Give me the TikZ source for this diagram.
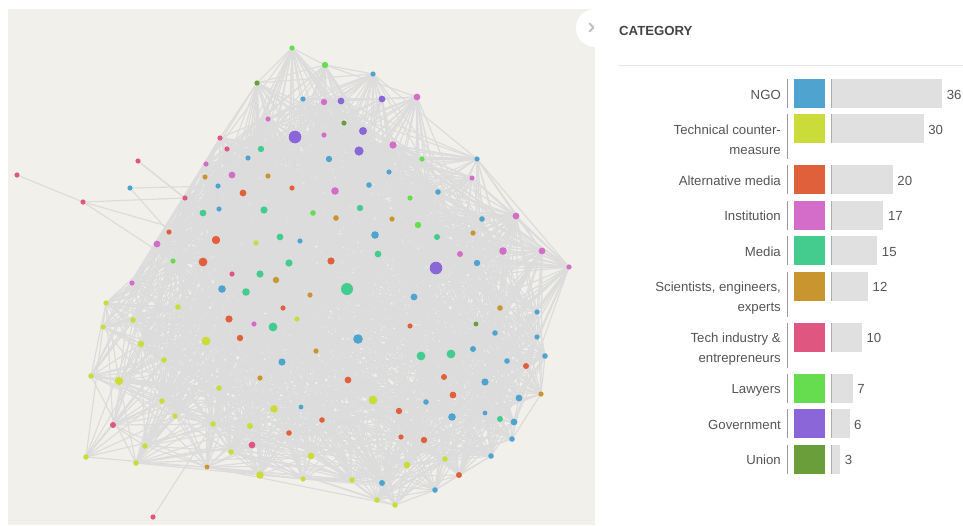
\documentclass[tikz,border=0pt]{standalone}
\usepackage{fontspec}
\setmainfont{Liberation Sans}
\definecolor{beige}{HTML}{F2F0EA}
\definecolor{edgec}{HTML}{DCDCDC}
\definecolor{cngo}{HTML}{4EA4CE}
\definecolor{ctec}{HTML}{CBDB3A}
\definecolor{calt}{HTML}{E0603C}
\definecolor{cins}{HTML}{D36DC9}
\definecolor{cmed}{HTML}{44CB8E}
\definecolor{csci}{HTML}{C9952E}
\definecolor{ctin}{HTML}{DF5780}
\definecolor{claw}{HTML}{66DD4E}
\definecolor{cgov}{HTML}{8A66D8}
\definecolor{cuni}{HTML}{6A9E3B}
\definecolor{bargray}{HTML}{E0E0E0}
\definecolor{txtc}{HTML}{555555}
\definecolor{titlec}{HTML}{444444}
\definecolor{rulec}{HTML}{E6E6E6}
\definecolor{sepc}{HTML}{999999}
\pgfdeclarelayer{bg}\pgfdeclarelayer{edges}\pgfsetlayers{bg,edges,main}
\def\NodeList{%
292/48/law/2.6/1, 257/83/uni/2.6/1, 303/99/ngo/2.6/1, 268/119/ins/2.6/1, 295/137/gov/6.3/1,
220/138/tin/2.6/1, 227/149/tin/2.6/1, 261/149/med/3.2/1, 248/158/ngo/2.6/1, 138/161/tin/2.6/0,
206/164/ins/2.6/1, 17/175/tin/2.6/0, 205/177/sci/2.6/1, 232/175/ins/3.4/1, 268/176/sci/2.6/1,
218/186/ngo/2.6/1, 130/188/ngo/2.6/0, 243/193/alt/3.4/1, 292/188/alt/2.6/1, 185/198/tin/2.6/1,
83/202/tin/2.6/0, 203/213/med/3.4/1, 219/209/ngo/2.6/1, 264/210/med/3.6/1, 169/232/alt/2.6/1,
157/244/ins/3.4/1, 216/240/alt/4.2/1, 256/243/tec/2.6/1, 280/237/med/3.4/1, 300/241/ngo/2.6/1,
173/261/law/2.6/1, 203/262/alt/4.4/1, 289/263/med/3.6/1, 232/274/tin/2.6/1, 260/274/med/3.6/1,
325/65/law/3.2/1, 373/74/ngo/2.6/1, 324/102/ins/3.2/1, 341/101/gov/3.4/1, 382/99/gov/3.4/1,
417/97/ins/3.4/1, 344/123/uni/2.6/1, 363/131/gov/4.0/1, 324/135/ins/2.6/1, 359/151/gov/4.6/1,
393/145/ins/3.6/1, 329/159/ngo/3.2/1, 422/159/law/2.6/1, 477/159/ngo/2.6/1, 389/172/ngo/2.6/1,
472/178/ins/2.6/1, 369/185/ngo/2.8/1, 335/191/ins/3.8/1, 410/198/law/2.6/1, 438/192/ngo/2.8/1,
313/213/law/2.8/1, 360/208/med/3.2/1, 336/218/sci/2.8/1, 392/219/sci/2.6/1, 418/225/law/3.2/1,
516/216/ins/3.4/1, 482/219/ngo/2.8/1, 473/233/sci/2.6/1, 375/235/ngo/3.8/1, 437/237/med/3.0/1,
503/251/ins/3.8/1, 542/251/ins/3.4/1, 378/254/med/3.4/1, 331/261/alt/3.6/1, 460/254/ins/3.0/1,
477/263/ngo/3.2/1, 436/268/gov/6.3/1, 569/267/ins/2.6/1,
276/280/sci/3.2/1, 132/283/ins/2.6/1, 222/289/ngo/3.8/1, 246/292/med/3.8/1, 106/303/tec/2.6/1,
178/307/tec/2.8/1, 283/308/alt/2.6/1, 133/320/tec/2.8/1, 229/319/alt/3.6/1, 254/324/ins/2.6/1,
273/327/med/4.4/1, 297/319/tec/2.6/1, 103/327/tec/2.6/1, 240/338/alt/3.2/1, 141/344/tec/3.2/1,
206/341/tec/4.4/1, 164/360/tec/2.8/1, 282/362/ngo/3.6/1, 91/376/tec/2.8/1, 119/381/tec/4.2/1,
260/378/sci/2.6/1, 219/388/tec/2.8/1, 162/401/tec/2.8/1, 274/409/tec/3.8/1, 301/407/ngo/2.4/1,
175/416/tec/2.6/1, 113/425/tin/3.0/1, 213/424/tec/2.8/1, 250/426/tec/3.0/1, 289/433/alt/2.8/1,
145/446/tec/2.8/1, 252/445/tin/3.4/1, 231/452/tec/2.8/1, 86/457/tec/2.8/1, 136/463/tec/2.8/1,
207/467/sci/2.4/1, 260/475/tec/3.8/1, 303/479/tec/2.6/1, 153/517/tin/2.6/0,
347/289/med/6.0/1, 310/295/sci/2.6/1, 414/297/ngo/3.4/1, 500/308/sci/2.8/1, 537/312/ngo/2.6/1,
410/326/alt/2.6/1, 476/324/uni/2.4/1, 495/333/ngo/2.8/1, 537/337/ngo/2.6/1, 358/339/ngo/4.8/1,
316/351/sci/2.6/1, 421/356/med/4.4/1, 451/354/med/4.4/1, 473/349/ngo/3.0/1, 545/356/ngo/2.8/1,
507/361/ngo/2.8/1, 526/366/alt/3.0/1, 348/380/alt/3.4/1, 444/377/alt/3.0/1, 485/382/ngo/3.6/1,
373/400/tec/4.4/1, 453/395/alt/3.4/1, 541/394/sci/2.6/1, 519/398/ngo/3.4/1, 426/402/ngo/2.8/1,
399/411/alt/3.2/1, 452/417/ngo/3.8/1, 485/413/ngo/2.4/1, 500/419/med/3.0/1, 514/422/ngo/3.4/1,
322/420/alt/2.8/1, 401/437/alt/2.6/1, 424/440/alt/3.2/1, 512/439/ngo/2.8/1, 311/456/tec/3.4/1,
407/465/tec/3.4/1, 445/459/tec/2.8/1, 491/456/ngo/2.8/1, 459/475/alt/3.0/1, 352/480/tec/2.8/1,
382/483/ngo/3.0/1, 435/490/ngo/2.8/1, 377/500/tec/2.8/1, 395/505/tec/2.8/1}
\newcommand\catrow[6]{%
  \draw[sepl] (787,#2) -- (787,#2+#6);
  \fill[#3] (794,#2) rectangle (825,#2+29);
  \fill[bargray] (831,#2) rectangle ({831+3.085*#4},#2+29);
  \draw[baredge] (831.6,#2) -- (831.6,#2+29);
  \node[lbl, anchor=base east] (l#1) at (781,#2+20) {#5};
  \node[lbl, anchor=base west] (v#1) at ({835.5+3.085*#4},#2+20) {#4};
}
\begin{document}
\begin{tikzpicture}[x=1pt,y=-1pt,
  nd/.style={circle, inner sep=0pt, outer sep=0pt, draw=none},
  lnk/.style={draw=edgec, line width=1.15pt},
  lbl/.style={inner sep=0pt, text=txtc, font=\fontsize{13.2}{15}\selectfont},
  sepl/.style={draw=sepc, line width=0.9pt},
  baredge/.style={draw=sepc!80, line width=1.2pt}]
\useasboundingbox (0,0) rectangle (963,525);
\begin{pgfonlayer}{bg}
\fill[white] (0,0) rectangle (963,525);
\fill[beige] (8,9) rectangle (595,525);
\fill[white] (595,28) circle (19);
\end{pgfonlayer}
\draw[draw=black!25, line width=1.8pt, line cap=round, line join=round] (589.5,23.5) -- (593.5,27.5) -- (589.5,31.5);
% nodes
\foreach \px/\py/\pc/\pr/\pf [count=\i] in \NodeList {
  \node[nd, fill=c\pc, minimum size={2*\pr pt}] (n\i) at (\px,\py) {};
  \expandafter\xdef\csname qx\i\endcsname{\px}
  \expandafter\xdef\csname qy\i\endcsname{\py}
  \expandafter\xdef\csname qf\i\endcsname{\pf}
  \xdef\NN{\i}
}
% edges
\pgfmathsetseed{4242}
\begin{pgfonlayer}{edges}
\pgfmathtruncatemacro\NNm{\NN-1}
\foreach \i in {1,...,\NNm} {
  \pgfmathtruncatemacro\ip{\i+1}
  \foreach \j in {\ip,...,\NN} {
    \ifnum\csname qf\i\endcsname\csname qf\j\endcsname=11
      \pgfmathtruncatemacro\hit{(rnd*exp(veclen(\csname qx\i\endcsname-\csname qx\j\endcsname,\csname qy\i\endcsname-\csname qy\j\endcsname)/115)<0.95)}
      \ifnum\hit=1 \draw[lnk] (n\i) -- (n\j); \fi
    \fi
  }
}
\draw[lnk] (n12) -- (n21);
\draw[lnk] (n21) -- (n20);
\draw[lnk] (n21) -- (n27);
\draw[lnk] (n21) -- (n31);
\draw[lnk] (n10) -- (n20);
\draw[lnk] (n10) -- (n22);
\draw[lnk] (n17) -- (n16);
\draw[lnk] (n17) -- (n25);
\draw[lnk] (n112) -- (n101);
\end{pgfonlayer}
% legend
\node[anchor=base west, inner sep=0pt, text=titlec, font=\bfseries\fontsize{13.2}{15}\selectfont] (title) at (619,35) {CATEGORY};
\draw[rulec, line width=1pt] (618,65.5) -- (963,65.5);
\catrow{ngo}{79}{cngo}{36}{NGO}{29}
\catrow{tec}{114}{ctec}{30}{Technical counter-}{45}
\node[lbl, anchor=base east] (ltec2) at (781,154) {measure};
\catrow{alt}{165}{calt}{20}{Alternative media}{29}
\catrow{ins}{200.5}{cins}{17}{Institution}{29}
\catrow{med}{236}{cmed}{15}{Media}{29}
\catrow{sci}{271.5}{csci}{12}{Scientists, engineers,}{45}
\node[lbl, anchor=base east] (lsci2) at (781,311.5) {experts};
\catrow{tin}{322.5}{ctin}{10}{Tech industry \&}{45}
\node[lbl, anchor=base east] (ltin2) at (781,362.5) {entrepreneurs};
\catrow{law}{373.5}{claw}{7}{Lawyers}{29}
\catrow{gov}{409}{cgov}{6}{Government}{29}
\catrow{uni}{444.5}{cuni}{3}{Union}{29}
\end{tikzpicture}
\end{document}
